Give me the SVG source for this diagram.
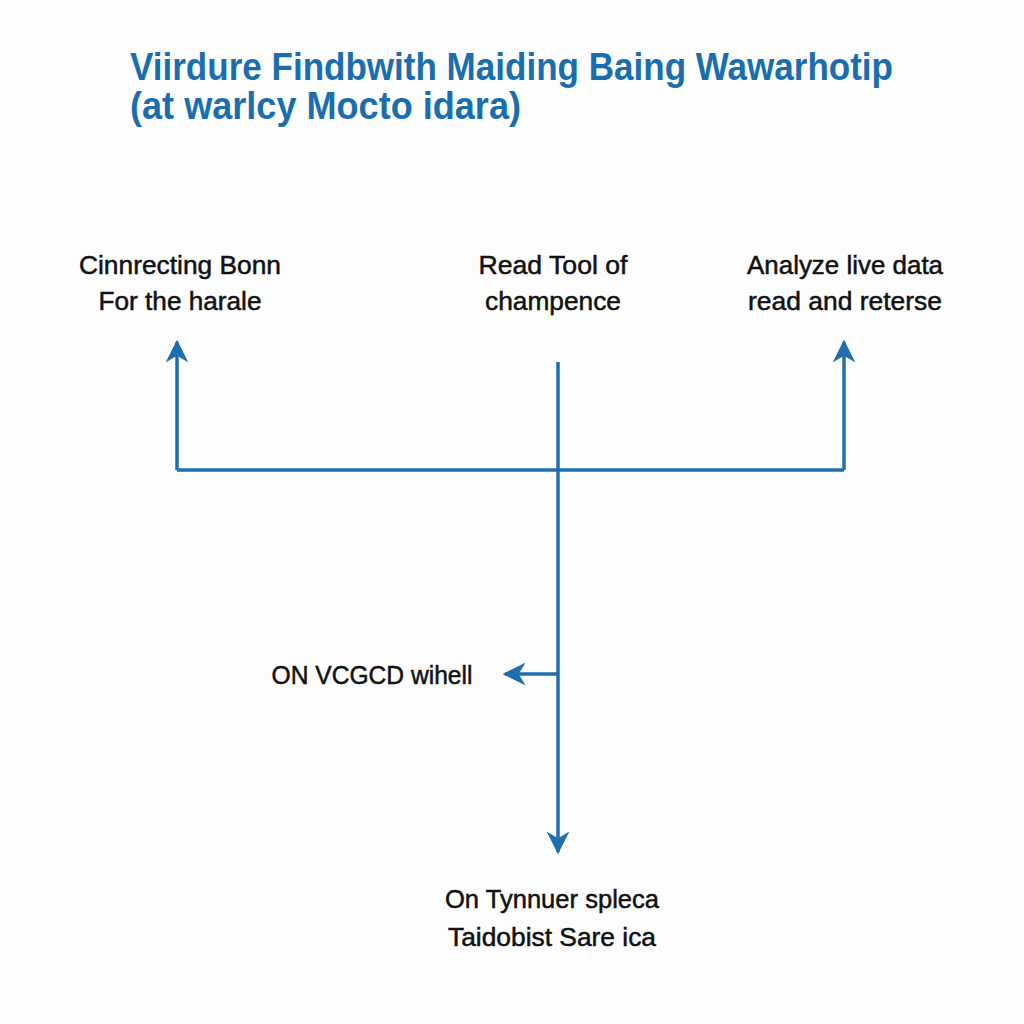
<svg xmlns="http://www.w3.org/2000/svg" width="1024" height="1024" viewBox="0 0 1024 1024">
<defs>
<marker id="ah" viewBox="0 0 10 10" refX="9" refY="5" markerWidth="6.5" markerHeight="6.5" markerUnits="strokeWidth" orient="auto">
<path d="M0,0 L10,5 L0,10 L3,5 Z" fill="#1f6fae"/>
</marker>
<style>
.title{font-family:"Liberation Sans",Arial,sans-serif;font-weight:bold;font-size:38px;fill:#1a6eb0}
.lbl{font-family:"Liberation Sans",Arial,sans-serif;font-size:26px;fill:#111;stroke:#111;stroke-width:0.5;text-anchor:middle}
.ln{stroke:#1f6fae;stroke-width:3.5;fill:none}
</style>
</defs>
<rect width="1024" height="1024" fill="#fdfdfd"/>
<g id="title">
<text class="title" x="130" y="80" textLength="763" lengthAdjust="spacingAndGlyphs">Viirdure Findbwith Maiding Baing Wawarhotip</text>
<text class="title" x="130" y="119" textLength="391" lengthAdjust="spacingAndGlyphs">(at warlcy Mocto idara)</text>
</g>
<g id="connectors">
<line class="ln" x1="558" y1="362" x2="558" y2="852" marker-end="url(#ah)"/>
<polyline class="ln" points="177,470 844,470"/>
<line class="ln" x1="177" y1="470" x2="177" y2="342" marker-end="url(#ah)"/>
<line class="ln" x1="844" y1="470" x2="844" y2="342" marker-end="url(#ah)"/>
<line class="ln" x1="558" y1="674" x2="505" y2="674" marker-end="url(#ah)"/>
</g>
<g id="node-left">
<text class="lbl" x="180" y="274" textLength="202" lengthAdjust="spacingAndGlyphs">Cinnrecting Bonn</text>
<text class="lbl" x="180" y="310" textLength="163" lengthAdjust="spacingAndGlyphs">For the harale</text>
</g>
<g id="node-center">
<text class="lbl" x="553" y="274" textLength="149" lengthAdjust="spacingAndGlyphs">Read Tool of</text>
<text class="lbl" x="553" y="310" textLength="136" lengthAdjust="spacingAndGlyphs">champence</text>
</g>
<g id="node-right">
<text class="lbl" x="845" y="274" textLength="196" lengthAdjust="spacingAndGlyphs">Analyze live data</text>
<text class="lbl" x="845" y="310" textLength="194" lengthAdjust="spacingAndGlyphs">read and reterse</text>
</g>
<g id="node-mid">
<text class="lbl" x="372" y="684" textLength="201" lengthAdjust="spacingAndGlyphs">ON VCGCD wihell</text>
</g>
<g id="node-bottom">
<text class="lbl" x="552" y="908" textLength="214" lengthAdjust="spacingAndGlyphs">On Tynnuer spleca</text>
<text class="lbl" x="552" y="946" textLength="208" lengthAdjust="spacingAndGlyphs">Taidobist Sare ica</text>
</g>
</svg>
